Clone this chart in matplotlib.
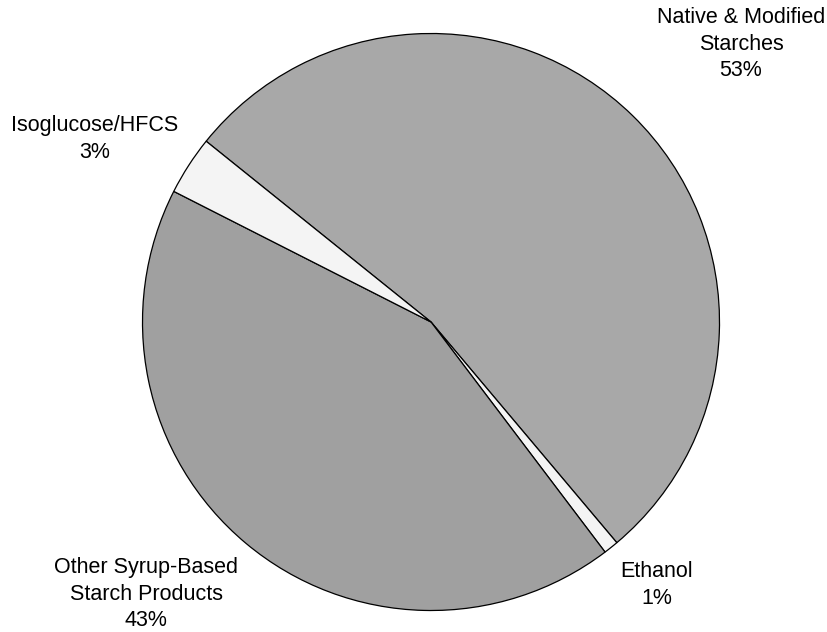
import matplotlib
matplotlib.use("Agg")
import matplotlib.pyplot as plt

# Starch product uses, share of total (%)
categories = ["Native & Modified\nStarches", "Ethanol",
              "Other Syrup-Based\nStarch Products", "Isoglucose/HFCS"]
shares = [53.1, 0.83, 42.8, 3.3]
pct_labels = ["53%", "1%", "43%", "3%"]
colors = ["#A8A8A8", "#F4F4F4", "#A0A0A0", "#F4F4F4"]

plt.rcParams["font.family"] = ["Liberation Sans", "DejaVu Sans"]

W, H = 827, 632
fig = plt.figure(figsize=(W / 100, H / 100), dpi=100)
ax = fig.add_axes([0, 0, 1, 1])

ax.pie(shares, colors=colors, startangle=141.2, counterclock=False,
       center=(431, H - 322), radius=288.5,
       wedgeprops=dict(edgecolor="black", linewidth=0.9))

# pie() resets the limits, so fix the pixel-sized canvas afterwards
ax.set_xlim(0, W)
ax.set_ylim(0, H)
ax.set_aspect("equal")
ax.axis("off")

label_pos = [(741, H - 44), (657, H - 585), (146, H - 594), (95, H - 139)]
for cat, pct, (x, y) in zip(categories, pct_labels, label_pos):
    ax.text(x, y, f"{cat}\n{pct}", ha="center", va="center", fontsize=15.5,
            linespacing=1.33, color="black")

fig.savefig("out.png", dpi=100)
